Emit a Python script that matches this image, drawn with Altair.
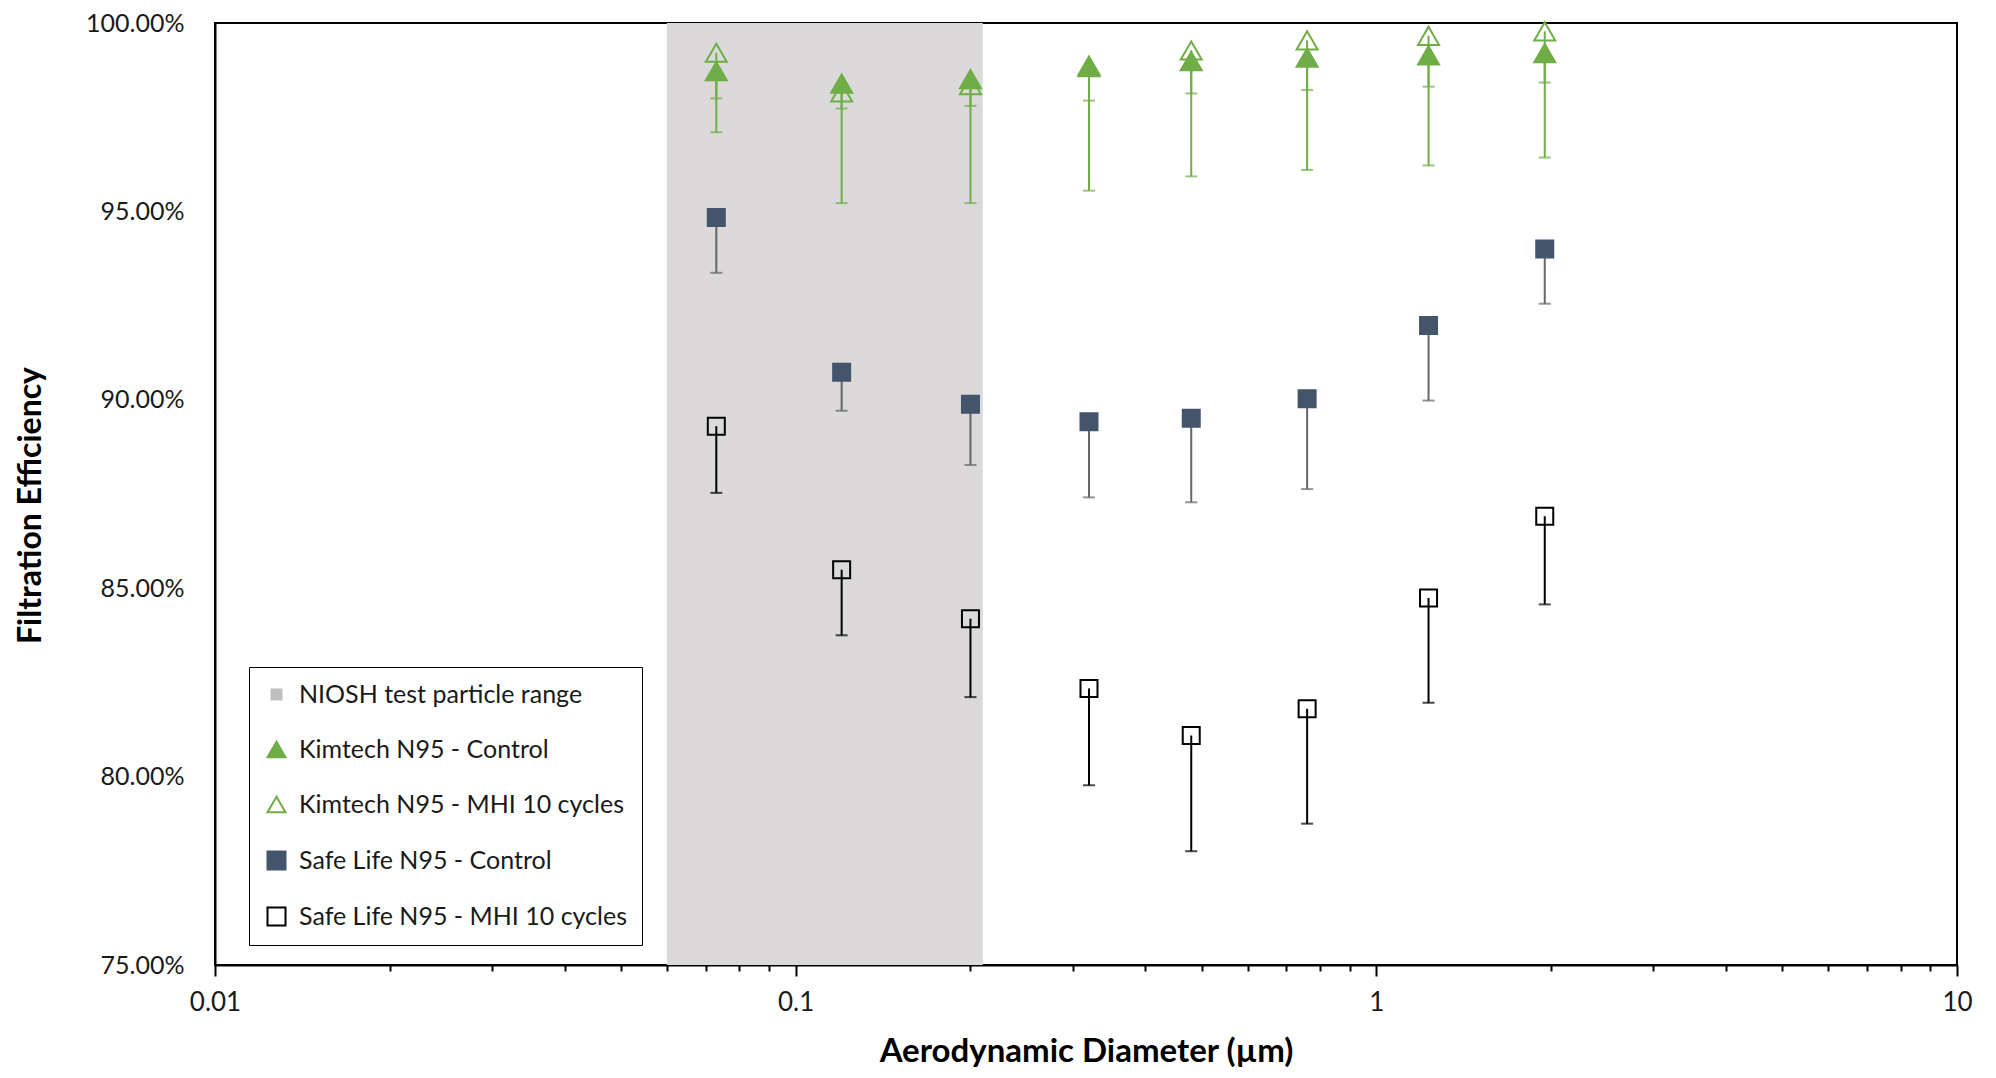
import altair as alt
import pandas as pd

# ---- data ----
diam = [0.073, 0.12, 0.20, 0.32, 0.48, 0.76, 1.23, 1.95]
kim_ctrl = [98.72, 98.39, 98.51, 98.83, 98.99, 99.08, 99.14, 99.20]
kim_ctrl_lo = [98.00, 97.73, 97.80, 97.94, 98.13, 98.22, 98.31, 98.42]
kim_mhi = [99.21, 98.16, 98.35, 98.87, 99.27, 99.54, 99.66, 99.78]
kim_mhi_lo = [97.10, 95.22, 95.22, 95.55, 95.93, 96.10, 96.22, 96.43]
safe_ctrl = [94.84, 90.73, 89.88, 89.42, 89.51, 90.03, 91.97, 94.00]
safe_ctrl_lo = [93.37, 89.71, 88.27, 87.41, 87.28, 87.63, 89.98, 92.55]
safe_mhi = [89.30, 85.49, 84.19, 82.34, 81.09, 81.80, 84.74, 86.91]
safe_mhi_lo = [87.53, 83.75, 82.11, 79.77, 78.02, 78.75, 81.96, 84.57]
niosh_range = [0.06, 0.21]

series = [
    "NIOSH test particle range",
    "Kimtech N95 - Control",
    "Kimtech N95 - MHI 10 cycles",
    "Safe Life N95 - Control",
    "Safe Life N95 - MHI 10 cycles",
]
y_ticks = [75, 80, 85, 90, 95, 100]
x_major = [0.01, 0.1, 1, 10]
x_mult = [1, 2, 3, 4, 5, 6, 7, 8, 9]

FONT = "Lato"
GREEN = "#70AD47"
NAVY = "#44546A"

rows = []
for name, vals, los in [
    (series[1], kim_ctrl, kim_ctrl_lo),
    (series[2], kim_mhi, kim_mhi_lo),
    (series[3], safe_ctrl, safe_ctrl_lo),
    (series[4], safe_mhi, safe_mhi_lo),
]:
    for d, v, lo in zip(diam, vals, los):
        rows.append({"series": name, "d": d, "v": v, "lo": lo})
df = pd.DataFrame(rows)
df_kim = df[df.series.str.startswith("Kimtech")]
df_safe = df[df.series.str.startswith("Safe")]
niosh = pd.DataFrame({"lo": [niosh_range[0]], "hi": [niosh_range[1]]})

x_ticks = [round(m * p, 6) for p in x_major[:-1] for m in x_mult] + [x_major[-1]]

xscale = alt.Scale(type="log", domain=[0.01, 10], nice=False)
yscale = alt.Scale(domain=[75, 100], nice=False, zero=False)

H = 942

major_test = " || ".join(f"datum.value == {m}" for m in x_major)
x_axis = alt.Axis(
    values=x_ticks,
    labelExpr=f"({major_test}) ? format(datum.value, '~g') : ''",
    tickSize={"condition": {"test": major_test, "value": 11}, "value": 6},
    tickColor="black", tickWidth=2,
    domainColor="black", domainWidth=2,
    labelFont=FONT, labelFontSize=26, labelColor="#1a1a1a", labelPadding=13,
    labelFlush=False, labelOverlap=False,
    grid=False,
    title="Aerodynamic Diameter (\u00b5m)",
    titleFont=FONT, titleFontSize=33, titleFontWeight="bold", titleColor="black",
    titleY=96, titleBaseline="alphabetic",
)
y_axis = alt.Axis(
    values=y_ticks,
    labelExpr="format(datum.value, '.2f') + '%'",
    ticks=False, tickSize=0,
    domainColor="black", domainWidth=2,
    labelFont=FONT, labelFontSize=25, labelColor="#1a1a1a", labelPadding=31,
    labelFlush=False, labelOverlap=False,
    grid=False,
    title="Filtration Efficiency",
    titleFont=FONT, titleFontSize=32, titleFontWeight="bold", titleColor="black",
    titleX=-175, titleY=482, titleBaseline="alphabetic", titleAlign="center",
)

legend = alt.Legend(
    title=None, orient="none", legendX=34, legendY=644, direction="vertical",
    strokeColor="black", fillColor="white", padding=15, rowPadding=29,
    labelFont=FONT, labelFontSize=25, labelColor="#1a1a1a", labelLimit=0,
    symbolSize=324, symbolStrokeWidth=2, labelOffset=10,
)
fill_enc = alt.Fill("series:N", scale=alt.Scale(domain=series, range=["#BFBFBF", GREEN, "transparent", NAVY, "transparent"]), legend=legend)
stroke_enc = alt.Stroke("series:N", scale=alt.Scale(domain=series, range=["#BFBFBF", GREEN, GREEN, NAVY, "#000000"]), legend=legend)
shape_enc = alt.Shape("series:N", scale=alt.Scale(domain=series, range=["M-0.55,-0.55H0.55V0.55H-0.55Z", "triangle-up", "triangle-up", "square", "square"]), legend=legend)
err_color = alt.Color("series:N", scale=alt.Scale(domain=series[1:], range=[GREEN, GREEN, "#666666", "#000000"]), legend=None)

band = alt.Chart(niosh).mark_rect(color="#DBD9DA").encode(
    x=alt.X("lo:Q", scale=xscale, axis=x_axis),
    x2="hi:Q",
    y=alt.datum(75, scale=yscale, axis=y_axis),
    y2=alt.datum(100),
)

base = alt.Chart(df)
rules = base.mark_rule(strokeWidth=2).encode(
    x=alt.X("d:Q", scale=xscale), y=alt.Y("v:Q", scale=yscale), y2="lo:Q", color=err_color
)
caps = base.mark_tick(orient="horizontal", size=12, thickness=2).encode(
    x=alt.X("d:Q", scale=xscale), y=alt.Y("lo:Q", scale=yscale), color=err_color
)

tri = alt.Chart(df_kim).mark_point(filled=True, opacity=1, strokeWidth=2, size=441).encode(
    x=alt.X("d:Q", scale=xscale), y=alt.Y("v:Q", scale=yscale),
    fill=fill_enc, stroke=stroke_enc, shape=shape_enc,
)
sq = alt.Chart(df_safe).mark_point(filled=True, opacity=1, strokeWidth=2, size=289).encode(
    x=alt.X("d:Q", scale=xscale), y=alt.Y("v:Q", scale=yscale),
    fill=fill_enc, stroke=stroke_enc, shape=shape_enc,
)

chart = alt.layer(band, rules, caps, tri, sq).properties(
    width=1742, height=H,
    background="white",
    autosize=alt.AutoSizeParams(type="none"),
    padding={"left": 207, "top": 15, "right": 30, "bottom": 105},
).configure_view(stroke="black", strokeWidth=2)

chart.save("out.html", embed_options={"renderer": "svg", "actions": False})
